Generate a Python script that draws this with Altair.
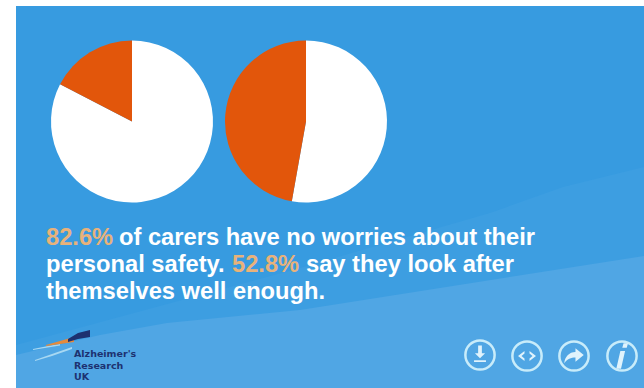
import altair as alt
import pandas as pd

# Share of carers per statement, drawn clockwise from twelve o'clock
safety_values = [82.6, 17.4]
selfcare_values = [52.8, 47.2]
slice_names = ["yes", "no"]
slice_colors = ["#ffffff", "#e2560b"]

PANEL = "#379be0"
BAND = "#3d9ee1"
BAND_LIGHT = "#50a6e4"
GOLD = "#e8b27a"
NAVY = "#1d3170"

W, H = 644, 388
x_scale = alt.Scale(domain=[0, W], range=[0, W], nice=False, zero=False)
y_scale = alt.Scale(domain=[0, H], range=[0, H], nice=False, zero=False)


def px(field):
    return alt.X(field, type="quantitative", scale=x_scale, axis=None)


def py(field):
    return alt.Y(field, type="quantitative", scale=y_scale, axis=None)


def region(xs, tops, bottoms, color):
    frame = pd.DataFrame({"x": xs, "top": tops, "bottom": bottoms})
    return alt.Chart(frame).mark_area(color=color, opacity=1).encode(
        x=px("x"), y=py("top"), y2="bottom"
    )


def pie(values, cx, cy, radius=81):
    frame = pd.DataFrame({"name": slice_names, "value": values, "rank": [0, 1]})
    return alt.Chart(frame).mark_arc(radius=radius).encode(
        theta=alt.Theta("value", type="quantitative", stack=True),
        order=alt.Order("rank", type="quantitative"),
        color=alt.Color("name", type="nominal", legend=None,
                        scale=alt.Scale(domain=slice_names, range=slice_colors)),
        x=alt.value(cx),
        y=alt.value(cy),
    )


def label(text, x, y, color="#ffffff", size=23.7, font="Liberation Sans"):
    frame = pd.DataFrame({"x": [x], "y": [y], "t": [text]})
    return alt.Chart(frame).mark_text(
        align="left", baseline="alphabetic", font=font,
        fontSize=size, fontWeight="bold", color=color,
    ).encode(x=px("x"), y=py("y"), text="t")


def ring(x, y, diameter=33):
    frame = pd.DataFrame({"x": [x], "y": [y]})
    return alt.Chart(frame).mark_point(
        shape="circle", filled=False, color="#c8ecfa", strokeWidth=2.5,
        size=3.1416 * diameter * diameter / 4, opacity=1,
    ).encode(x=px("x"), y=py("y"))


def glyph(path, x, y, size):
    frame = pd.DataFrame({"x": [x], "y": [y]})
    return alt.Chart(frame).mark_point(
        shape=path, filled=True, color="#e0f3fc", size=size, opacity=1, strokeWidth=0,
    ).encode(x=px("x"), y=py("y"))


# Panel and its two soft diagonal bands
panel = region([16, 644], [6, 6], [388, 388], PANEL)
band_mid = region([16, 300, 490, 563, 644], [345, 268, 213, 187, 167],
                  [388, 388, 388, 388, 388], BAND)
band_light = region([16, 100, 167, 300, 644], [355, 335, 323, 310, 256],
                    [388, 388, 388, 388, 388], BAND_LIGHT)

# Logo swoosh beside the charity name
swoosh_orange = region([46, 60, 74], [345, 341, 337], [346, 344, 342], "#e58a3c")
swoosh_navy = region([68, 78, 90], [339, 333, 330], [342, 339, 337], NAVY)
swoosh_pale = region([33, 48, 60], [349, 346, 344], [350, 347.5, 345.5], "#a8d8f2")
swoosh_pale2 = region([35, 52, 72], [360, 354, 347], [361, 356, 349], "#a8d8f2")

download = "M-0.22,-1 L0.22,-1 L0.22,-0.1 L0.6,-0.1 L0,0.5 L-0.6,-0.1 L-0.22,-0.1 Z M-0.7,0.72 L0.7,0.72 L0.7,0.95 L-0.7,0.95 Z"
code = "M-0.25,-0.5 L-0.9,0 L-0.25,0.5 L-0.25,0.25 L-0.55,0 L-0.25,-0.25 Z M0.25,-0.5 L0.9,0 L0.25,0.5 L0.25,0.25 L0.55,0 L0.25,-0.25 Z"
share = "M0.15,-0.8 L1,-0.1 L0.15,0.6 L0.15,0.15 C-0.3,0.15 -0.7,0.3 -1,0.75 C-0.95,0.1 -0.5,-0.4 0.15,-0.4 Z"
info = "M0.2,-1 L0.55,-1 L0.45,-0.65 L0.1,-0.65 Z M-0.05,-0.4 L0.32,-0.4 L0,1 L-0.37,1 Z"

LOGO_FONT = "DejaVu Sans"

chart = alt.layer(
    panel, band_mid, band_light,
    pie(safety_values, 132, 121.5),
    pie(selfcare_values, 306, 121.5),
    label("82.6%", 46, 245, GOLD), label("of carers have no worries about their", 119, 245),
    label("personal safety.", 46, 272), label("52.8%", 232, 272, GOLD),
    label("say they look after", 306, 272),
    label("themselves well enough.", 46, 299),
    swoosh_pale, swoosh_pale2, swoosh_orange, swoosh_navy,
    label("Alzheimer's", 74, 357, NAVY, 9.5, LOGO_FONT),
    label("Research", 74, 368.5, NAVY, 9.5, LOGO_FONT),
    label("UK", 74, 380, NAVY, 9.5, LOGO_FONT),
    ring(480, 355), ring(527, 356), ring(574, 356), ring(622, 356),
    glyph(download, 480, 354, 290), glyph(code, 527, 356, 400),
    glyph(share, 574, 356, 380), glyph(info, 621, 356, 650),
).resolve_scale(theta="independent").properties(
    width=W, height=H, padding=0, autosize=alt.AutoSizeParams(type="none"),
    background="#ffffff",
).configure_view(stroke=None)

chart.save("out.html", embed_options={"renderer": "svg", "actions": False})
